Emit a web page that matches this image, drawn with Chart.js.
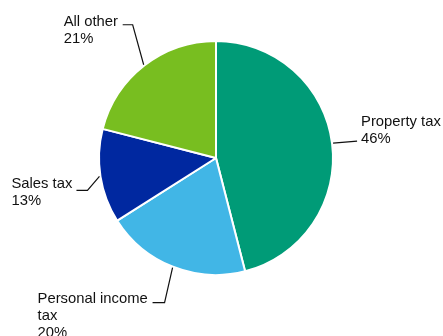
<!DOCTYPE html>
<html>
<head>
<meta charset="utf-8">
<script src="https://cdn.jsdelivr.net/npm/chart.js@4/dist/chart.umd.min.js"></script>
<style>
  html, body { margin: 0; padding: 0; background: #fff; }
  #wrap { width: 443px; height: 336px; }
</style>
</head>
<body>
<div id="wrap"><canvas id="pie"></canvas></div>
<script>
var categories = ['Property tax', 'Personal income tax', 'Sales tax', 'All other'];
var shares = [46, 20, 13, 21];
var sliceColors = ['#009B77', '#41B6E6', '#0028A0', '#78BE20'];

// how each category name is broken over lines in the callouts
var labelLines = [['Property tax'], ['Personal income', 'tax'], ['Sales tax'], ['All other']];

// callout layout: elbow offset from slice edge, horizontal run, text offset from run end
var callouts = [
    {ex: 24, ey: -2, run: 0, tx: 4, ty: -15},
    {ex: -8, ey: 35, run: -12, tx: -115, ty: 0},
    {ex: -12, ey: 14, run: -11, tx: -65, ty: -2},
    {ex: -11, ey: -40, run: -10, tx: -59, ty: 1}
];

var calloutPlugin = {
    id: 'callouts',
    afterDatasetsDraw: function(chart) {
        var ctx = chart.ctx;
        var meta = chart.getDatasetMeta(0);
        ctx.save();
        ctx.font = '14.8px "Liberation Sans", Arial, sans-serif';
        ctx.fillStyle = '#111';
        ctx.strokeStyle = '#111';
        ctx.lineWidth = 1.2;
        ctx.textBaseline = 'alphabetic';
        ctx.textAlign = 'left';

        meta.data.forEach(function(arc, i) {
            var mid = (arc.startAngle + arc.endAngle) / 2;
            var r = arc.outerRadius + 1;
            var px = arc.x + Math.cos(mid) * r;
            var py = arc.y + Math.sin(mid) * r;
            var c = callouts[i];
            var ex = px + c.ex, ey = py + c.ey;
            var qx = ex + c.run, qy = ey;

            ctx.beginPath();
            ctx.moveTo(px, py);
            ctx.lineTo(ex, ey);
            ctx.lineTo(qx, qy);
            ctx.stroke();

            var lines = labelLines[i].concat([shares[i] + '%']);
            lines.forEach(function(line, j) {
                ctx.fillText(line, qx + c.tx, qy + c.ty + j * 17);
            });
        });
        ctx.restore();
    }
};

new Chart(document.getElementById('pie'), {
    type: 'pie',
    data: {
        labels: categories,
        datasets: [{
            data: shares,
            backgroundColor: sliceColors,
            borderColor: '#ffffff',
            borderWidth: 2
        }]
    },
    options: {
        responsive: true,
        maintainAspectRatio: false,
        animation: false,
        layout: {
            padding: {left: 98, right: 109, top: 40, bottom: 60}
        },
        plugins: {
            legend: {display: false},
            tooltip: {enabled: false}
        }
    },
    plugins: [calloutPlugin]
});
</script>
</body>
</html>
